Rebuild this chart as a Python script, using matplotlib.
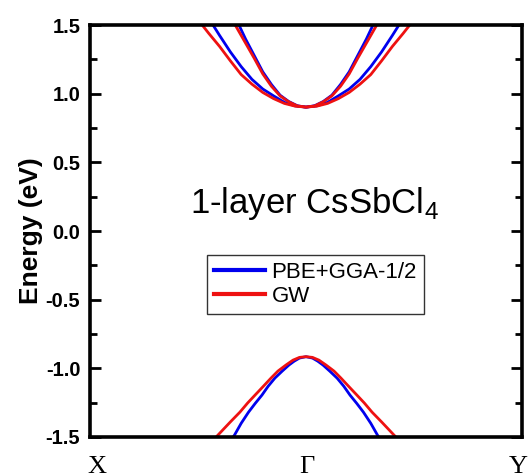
import matplotlib
matplotlib.use("Agg")
import matplotlib.pyplot as plt
from matplotlib.ticker import MultipleLocator

plt.rcParams['font.family'] = 'Liberation Sans'
plt.rcParams['mathtext.fontset'] = 'custom'
plt.rcParams['mathtext.rm'] = 'Liberation Sans'

# k path: X = -1, Gamma = 0, Y = 1
kpts = [-1, 0, 1]
klabels = ['X', '\u0393', 'Y']

# conduction bands, PBE+GGA-1/2 (blue)
k_cb1_pbe = [-0.35, -0.31, -0.28, -0.24, -0.20, -0.16, -0.12, -0.08, -0.04, 0.0,
             0.04, 0.08, 0.12, 0.16, 0.20, 0.24, 0.28, 0.31, 0.35]
e_cb1_pbe = [1.61, 1.50, 1.40, 1.28, 1.16, 1.068, 0.99, 0.944, 0.913, 0.903,
             0.913, 0.944, 0.99, 1.068, 1.16, 1.28, 1.40, 1.50, 1.61]
k_cb2_pbe = [-0.47, -0.43, -0.40, -0.35, -0.30, -0.25, -0.20, -0.15, -0.10, -0.05, 0.0,
             0.05, 0.10, 0.15, 0.20, 0.25, 0.30, 0.35, 0.40, 0.43, 0.47]
e_cb2_pbe = [1.61, 1.50, 1.425, 1.305, 1.198, 1.105, 1.035, 0.985, 0.938, 0.912, 0.903,
             0.912, 0.938, 0.985, 1.035, 1.105, 1.198, 1.305, 1.425, 1.50, 1.61]

# conduction bands, GW (red)
k_cb1_gw = [-0.36, -0.32, -0.28, -0.24, -0.20, -0.16, -0.12, -0.08, -0.04, 0.0,
            0.04, 0.08, 0.12, 0.16, 0.20, 0.24, 0.28, 0.32, 0.36]
e_cb1_gw = [1.59, 1.48, 1.37, 1.26, 1.145, 1.055, 0.985, 0.942, 0.912, 0.903,
            0.912, 0.942, 0.985, 1.055, 1.145, 1.26, 1.37, 1.48, 1.59]
k_cb2_gw = [-0.53, -0.48, -0.45, -0.40, -0.35, -0.30, -0.25, -0.20, -0.15, -0.10, -0.05, 0.0,
            0.05, 0.10, 0.15, 0.20, 0.25, 0.30, 0.35, 0.40, 0.45, 0.48, 0.53]
e_cb2_gw = [1.61, 1.50, 1.44, 1.345, 1.24, 1.14, 1.07, 1.01, 0.965, 0.93, 0.91, 0.903,
            0.91, 0.93, 0.965, 1.01, 1.07, 1.14, 1.24, 1.345, 1.44, 1.50, 1.61]

# valence bands
k_vb_pbe = [-0.36, -0.331, -0.30, -0.266, -0.235, -0.204, -0.175, -0.144, -0.11, -0.079, -0.055, -0.03, 0.0,
            0.03, 0.055, 0.079, 0.11, 0.144, 0.175, 0.204, 0.235, 0.266, 0.30, 0.331, 0.36]
e_vb_pbe = [-1.55, -1.486, -1.40, -1.319, -1.255, -1.195, -1.13, -1.071, -1.02, -0.976, -0.948, -0.925, -0.915,
            -0.925, -0.948, -0.976, -1.02, -1.071, -1.13, -1.195, -1.255, -1.319, -1.40, -1.486, -1.55]
k_vb_gw = [-0.45, -0.41, -0.35, -0.306, -0.27, -0.236, -0.20, -0.162, -0.13, -0.093, -0.06, -0.03, 0.0,
           0.03, 0.06, 0.093, 0.13, 0.162, 0.20, 0.236, 0.27, 0.306, 0.35, 0.41, 0.45]
e_vb_gw = [-1.56, -1.49, -1.39, -1.319, -1.252, -1.195, -1.135, -1.071, -1.02, -0.976, -0.94, -0.92, -0.915,
           -0.92, -0.94, -0.976, -1.02, -1.071, -1.135, -1.195, -1.252, -1.319, -1.39, -1.49, -1.56]

blue = '#0000ee'
red = '#ee1111'

fig = plt.figure(figsize=(5.28, 4.75), dpi=100)
ax = fig.add_axes([0.1705, 0.08, 0.818, 0.867])

lw = 2.0
ax.plot(k_cb1_pbe, e_cb1_pbe, color=blue, lw=lw, label='PBE+GGA-1/2')
ax.plot(k_cb2_pbe, e_cb2_pbe, color=blue, lw=lw)
ax.plot(k_vb_pbe, e_vb_pbe, color=blue, lw=lw)
ax.plot(k_cb1_gw, e_cb1_gw, color=red, lw=lw, label='GW')
ax.plot(k_cb2_gw, e_cb2_gw, color=red, lw=lw)
ax.plot(k_vb_gw, e_vb_gw, color=red, lw=lw)

ax.set_xlim(-1, 1)
ax.set_ylim(-1.5, 1.5)
ax.set_xticks(kpts)
ax.set_xticklabels(klabels, family='Liberation Serif', fontsize=19)
ax.tick_params(axis='x', length=0, pad=14)
# the end labels sit a little inside the frame in the original
offsets = [7, 1, -4]
for lab, dx in zip(ax.get_xticklabels(), offsets):
    lab.set_transform(lab.get_transform() + matplotlib.transforms.ScaledTranslation(dx / 100, 0, fig.dpi_scale_trans))

ax.yaxis.set_major_locator(MultipleLocator(0.5))
ax.yaxis.set_minor_locator(MultipleLocator(0.25))
ax.yaxis.set_major_formatter(plt.FormatStrFormatter('%.1f'))
ax.tick_params(axis='y', which='both', direction='in', right=True, width=2, labelsize=14.5, pad=7)
ax.tick_params(axis='y', which='major', length=8)
ax.tick_params(axis='y', which='minor', length=5)
for lab in ax.get_yticklabels():
    lab.set_fontweight('bold')

for s in ax.spines.values():
    s.set_linewidth(2.6)

ax.set_ylabel('Energy (eV)', fontsize=19, fontweight='bold', labelpad=2)

ax.text(0.231, 0.566, r'1-layer CsSbCl$_\mathregular{4}$', transform=ax.transAxes,
        fontsize=25, ha='left', va='center')

leg = ax.legend(loc='upper left', bbox_to_anchor=(0.271, 0.442), fontsize=16,
                frameon=True, fancybox=False, edgecolor='black', handlelength=2.3,
                handletextpad=0.3, borderpad=0.3, labelspacing=0.15, borderaxespad=0)
leg.get_frame().set_linewidth(1.0)
for line in leg.get_lines():
    line.set_linewidth(3)

fig.savefig('out.png', dpi=100)
